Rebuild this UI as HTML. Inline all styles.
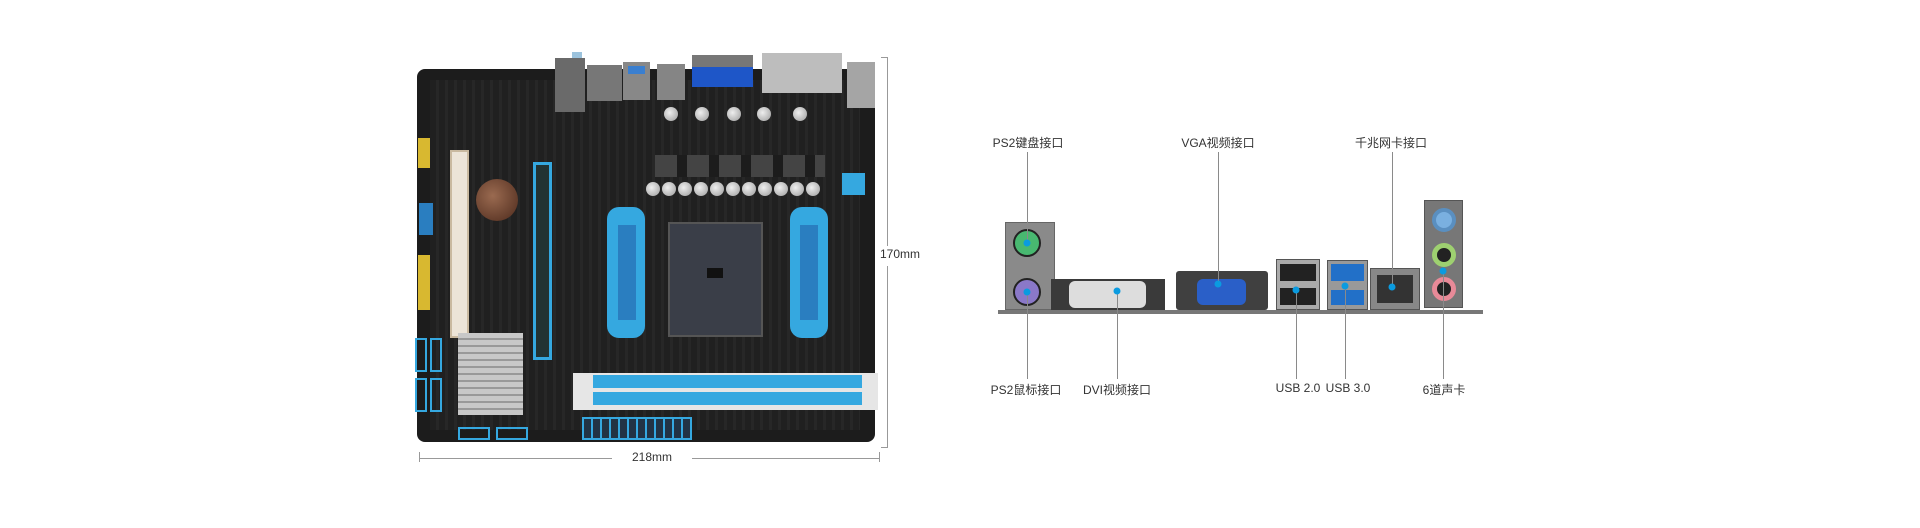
<!DOCTYPE html>
<html><head><meta charset="utf-8"><style>
body{margin:0;width:1920px;height:528px;background:#fff;position:relative;overflow:hidden;font-family:"Liberation Sans","Noto Sans CJK SC",sans-serif}
div{position:absolute;box-sizing:border-box}
.t{font-size:12px;color:#333;white-space:nowrap;transform:translateX(-50%)}
.ln{background:#8a8a8a;width:1px}
.dot{width:7px;height:7px;border-radius:50%;background:#0a9be0;transform:translate(-50%,-50%)}
.cap{width:14px;height:14px;border-radius:50%;background:radial-gradient(circle at 40% 40%,#eee,#9a9a9a);}
.bl{background:#35a8e0}
</style></head><body>
<!-- motherboard -->
<div style="left:417px;top:69px;width:458px;height:373px;background:#1c1c1c;border-radius:8px"></div>
<div style="left:430px;top:80px;width:430px;height:350px;background:repeating-linear-gradient(90deg,#222 0 6px,#2c2c2c 6px 9px);opacity:.7"></div>
<!-- top io -->
<div style="left:572px;top:52px;width:10px;height:8px;background:#9cc3dd"></div>
<div style="left:555px;top:58px;width:30px;height:54px;background:#6a6a6a"></div>
<div style="left:587px;top:65px;width:35px;height:36px;background:#777"></div>
<div style="left:623px;top:62px;width:27px;height:38px;background:#888"></div>
<div style="left:628px;top:66px;width:17px;height:8px;background:#3a7fd0"></div>
<div style="left:657px;top:64px;width:28px;height:36px;background:#858585"></div>
<div style="left:692px;top:55px;width:61px;height:16px;background:#777"></div>
<div style="left:692px;top:67px;width:61px;height:20px;background:#1e56c8"></div>
<div style="left:762px;top:53px;width:80px;height:40px;background:#bdbdbd"></div>
<div style="left:847px;top:62px;width:28px;height:46px;background:#a5a5a5"></div>
<!-- pci -->
<div style="left:450px;top:150px;width:19px;height:188px;background:#ece4d8;border:2px solid #c9b9a0"></div>
<!-- pcie -->
<div style="left:533px;top:162px;width:19px;height:198px;border:3px solid #35a8e0;background:#233"></div>
<!-- battery -->
<div style="left:476px;top:179px;width:42px;height:42px;border-radius:50%;background:radial-gradient(circle at 40% 40%,#9a6a50,#4d2a1c)"></div>
<!-- heatsink -->
<div style="left:458px;top:333px;width:65px;height:82px;background:repeating-linear-gradient(0deg,#c8c8c8 0 5px,#999 5px 7px)"></div>
<!-- socket -->
<div style="left:668px;top:222px;width:95px;height:115px;background:#3a3e48;border:2px solid #555"></div>
<div style="left:707px;top:268px;width:16px;height:10px;background:#111"></div>
<div class="bl" style="left:607px;top:207px;width:38px;height:131px;border-radius:12px"></div>
<div class="bl" style="left:790px;top:207px;width:38px;height:131px;border-radius:12px"></div>
<div style="left:618px;top:225px;width:18px;height:95px;background:#2a7ec0"></div>
<div style="left:800px;top:225px;width:18px;height:95px;background:#2a7ec0"></div>
<!-- caps -->
<div class="cap" style="left:664px;top:107px"></div><div class="cap" style="left:695px;top:107px"></div><div class="cap" style="left:727px;top:107px"></div><div class="cap" style="left:757px;top:107px"></div><div class="cap" style="left:793px;top:107px"></div>
<div class="cap" style="left:646px;top:182px"></div><div class="cap" style="left:662px;top:182px"></div><div class="cap" style="left:678px;top:182px"></div><div class="cap" style="left:694px;top:182px"></div><div class="cap" style="left:710px;top:182px"></div><div class="cap" style="left:726px;top:182px"></div><div class="cap" style="left:742px;top:182px"></div><div class="cap" style="left:758px;top:182px"></div><div class="cap" style="left:774px;top:182px"></div><div class="cap" style="left:790px;top:182px"></div><div class="cap" style="left:806px;top:182px"></div>
<div style="left:655px;top:155px;width:170px;height:22px;background:repeating-linear-gradient(90deg,#444 0 22px,#1c1c1c 22px 32px)"></div>
<div class="bl" style="left:842px;top:173px;width:23px;height:22px"></div>
<!-- dimm -->
<div style="left:573px;top:373px;width:305px;height:37px;background:#e6e6e6"></div>
<div class="bl" style="left:593px;top:375px;width:269px;height:13px"></div>
<div class="bl" style="left:593px;top:392px;width:269px;height:13px"></div>
<!-- 24pin -->
<div style="left:582px;top:417px;width:110px;height:23px;border:2px solid #35a8e0;background:repeating-linear-gradient(90deg,#234 0 7px,#35a8e0 7px 9px)"></div>
<!-- sata -->
<div style="left:415px;top:338px;width:12px;height:34px;border:2px solid #35a8e0"></div>
<div style="left:430px;top:338px;width:12px;height:34px;border:2px solid #35a8e0"></div>
<div style="left:415px;top:378px;width:12px;height:34px;border:2px solid #35a8e0"></div>
<div style="left:430px;top:378px;width:12px;height:34px;border:2px solid #35a8e0"></div>
<div style="left:458px;top:427px;width:32px;height:13px;border:2px solid #35a8e0"></div>
<div style="left:496px;top:427px;width:32px;height:13px;border:2px solid #35a8e0"></div>
<div style="left:418px;top:138px;width:12px;height:30px;background:#d8b830"></div>
<div style="left:418px;top:255px;width:12px;height:55px;background:#d8b830"></div>
<div style="left:419px;top:203px;width:14px;height:32px;background:#2a7ec0"></div>
<!-- dimension lines -->
<div style="left:887px;top:57px;width:1px;height:390px;background:#999"></div>
<div style="left:881px;top:57px;width:7px;height:1px;background:#999"></div>
<div style="left:881px;top:447px;width:7px;height:1px;background:#999"></div>
<div style="left:876px;top:246px;width:50px;height:20px;background:#fff"></div>
<div class="t" style="left:900px;top:247px">170mm</div>
<div style="left:419px;top:458px;width:460px;height:1px;background:#999"></div>
<div style="left:419px;top:452px;width:1px;height:10px;background:#999"></div>
<div style="left:879px;top:452px;width:1px;height:10px;background:#999"></div>
<div style="left:612px;top:450px;width:80px;height:16px;background:#fff"></div>
<div class="t" style="left:652px;top:450px">218mm</div>
<!-- io panel -->
<div style="left:998px;top:310px;width:485px;height:4px;background:#777"></div>
<div style="left:1005px;top:222px;width:50px;height:88px;background:#8a8a8a;border:1px solid #666"></div>
<div style="left:1013px;top:229px;width:28px;height:28px;border-radius:50%;background:#48b870;border:2px solid #222"></div>
<div style="left:1013px;top:278px;width:28px;height:28px;border-radius:50%;background:#8a78c8;border:2px solid #222"></div>
<div style="left:1051px;top:279px;width:114px;height:31px;background:#3a3a3a"></div>
<div style="left:1069px;top:281px;width:77px;height:27px;background:#ddd;border-radius:6px"></div>
<div style="left:1176px;top:271px;width:92px;height:39px;background:#404040;border-radius:3px"></div>
<div style="left:1197px;top:279px;width:49px;height:26px;background:#2a5fc8;border-radius:6px"></div>
<div style="left:1276px;top:259px;width:44px;height:51px;background:#aaa;border:1px solid #555"></div>
<div style="left:1280px;top:264px;width:36px;height:17px;background:#222"></div>
<div style="left:1280px;top:288px;width:36px;height:17px;background:#222"></div>
<div style="left:1327px;top:260px;width:41px;height:50px;background:#999;border:1px solid #555"></div>
<div style="left:1331px;top:264px;width:33px;height:17px;background:#2270c8"></div>
<div style="left:1331px;top:290px;width:33px;height:15px;background:#2270c8"></div>
<div style="left:1370px;top:268px;width:50px;height:42px;background:#888;border:1px solid #555"></div>
<div style="left:1377px;top:275px;width:36px;height:28px;background:#333"></div>
<div style="left:1424px;top:200px;width:39px;height:108px;background:#777;border:1px solid #555"></div>
<div style="left:1432px;top:208px;width:24px;height:24px;border-radius:50%;background:#7ab0e0;border:4px solid #5a8fc0"></div>
<div style="left:1432px;top:243px;width:24px;height:24px;border-radius:50%;background:#222;border:5px solid #9ed070"></div>
<div style="left:1432px;top:277px;width:24px;height:24px;border-radius:50%;background:#222;border:5px solid #e88a98"></div>
<!-- leaders -->
<div class="ln" style="left:1027px;top:152px;height:91px"></div>
<div class="ln" style="left:1027px;top:292px;height:87px"></div>
<div class="ln" style="left:1117px;top:291px;height:88px"></div>
<div class="ln" style="left:1218px;top:152px;height:132px"></div>
<div class="ln" style="left:1296px;top:290px;height:89px"></div>
<div class="ln" style="left:1345px;top:286px;height:93px"></div>
<div class="ln" style="left:1392px;top:152px;height:135px"></div>
<div class="ln" style="left:1443px;top:271px;height:108px"></div>
<div class="dot" style="left:1027px;top:243px"></div><div class="dot" style="left:1027px;top:292px"></div>
<div class="dot" style="left:1117px;top:291px"></div><div class="dot" style="left:1218px;top:284px"></div>
<div class="dot" style="left:1296px;top:290px"></div><div class="dot" style="left:1345px;top:286px"></div>
<div class="dot" style="left:1392px;top:287px"></div><div class="dot" style="left:1443px;top:271px"></div>
<div class="t" style="left:1028px;top:134px">PS2键盘接口</div>
<div class="t" style="left:1218px;top:134px">VGA视频接口</div>
<div class="t" style="left:1391px;top:134px">千兆网卡接口</div>
<div class="t" style="left:1026px;top:381px">PS2鼠标接口</div>
<div class="t" style="left:1117px;top:381px">DVI视频接口</div>
<div class="t" style="left:1298px;top:381px">USB 2.0</div>
<div class="t" style="left:1348px;top:381px">USB 3.0</div>
<div class="t" style="left:1444px;top:381px">6道声卡</div>
</body></html>
